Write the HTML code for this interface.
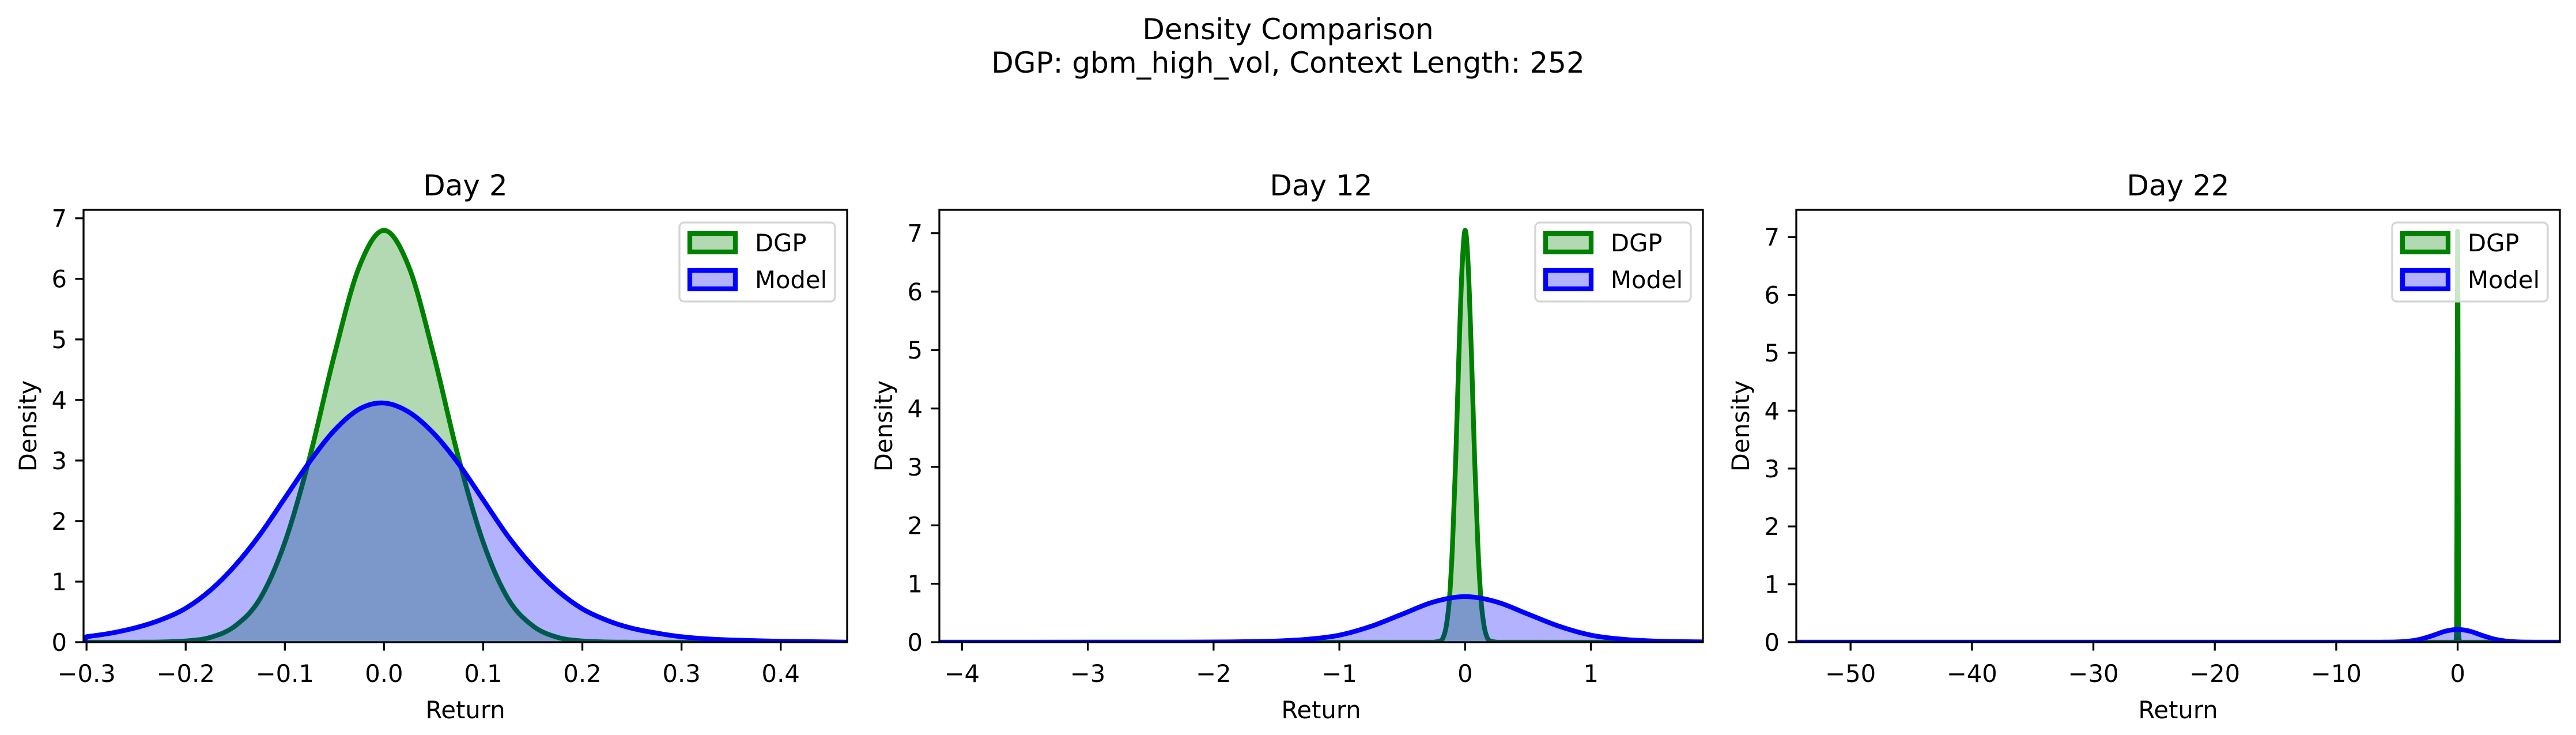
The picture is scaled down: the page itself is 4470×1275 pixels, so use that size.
<!DOCTYPE html>
<html><head><meta charset="utf-8"><style>
html,body{margin:0;padding:0;background:#fff;}
svg{display:block;font-family:"DejaVu Sans","Liberation Sans",sans-serif;}
</style></head><body>
<svg id="fig" width="4470" height="1275" viewBox="0 0 4470 1275" xmlns="http://www.w3.org/2000/svg">
<rect width="4470" height="1275" fill="#fff"/>
<text x="2235" y="68" font-size="50" text-anchor="middle">Density Comparison</text>
<text x="2235" y="126" font-size="50" text-anchor="middle">DGP: gbm_high_vol, Context Length: 252</text>
</svg>
<script>
// Day 2
const p1DgpX = [-0.25,-0.225,-0.2,-0.175,-0.15,-0.125,-0.1,-0.075,-0.05,-0.025,0,0.025,0.05,0.075,0.1,0.125,0.15,0.175,0.2,0.225,0.25];
const p1DgpY = [0,0.004,0.02,0.08,0.27,0.72,1.65,3.05,4.75,6.2,6.8,6.2,4.75,3.05,1.65,0.72,0.27,0.08,0.02,0.004,0];
const p1ModX = [-0.3,-0.275,-0.25,-0.225,-0.2,-0.175,-0.15,-0.125,-0.1,-0.075,-0.05,-0.025,0,0.025,0.05,0.075,0.1,0.125,0.15,0.175,0.2,0.225,0.25,0.275,0.3,0.325,0.35,0.4,0.45];
const p1ModY = [0.09,0.15,0.24,0.37,0.56,0.86,1.27,1.78,2.38,2.98,3.5,3.85,3.95,3.8,3.45,2.95,2.35,1.75,1.25,0.85,0.55,0.36,0.23,0.15,0.09,0.055,0.035,0.015,0.005];
const p1XTicks = [-0.3,-0.2,-0.1,0.0,0.1,0.2,0.3,0.4];
const p1XLabels = ["\u22120.3","\u22120.2","\u22120.1","0.0","0.1","0.2","0.3","0.4"];
// Day 12
const p2DgpX = [-0.25,-0.2,-0.175,-0.15,-0.125,-0.1,-0.075,-0.05,-0.025,0,0.025,0.05,0.075,0.1,0.125,0.15,0.175,0.2,0.25];
const p2DgpY = [0,0.02,0.08,0.28,0.75,1.7,3.15,4.9,6.4,7.05,6.4,4.9,3.15,1.7,0.75,0.28,0.08,0.02,0];
const p2ModX = [-2.25,-2,-1.75,-1.5,-1.25,-1,-0.75,-0.5,-0.25,0,0.25,0.5,0.75,1,1.25,1.5,1.75,2,2.25];
const p2ModY = [0.001,0.003,0.008,0.02,0.05,0.12,0.27,0.48,0.69,0.78,0.69,0.48,0.27,0.12,0.05,0.02,0.008,0.003,0.001];
const p2XTicks = [-4,-3,-2,-1,0,1];
const p2XLabels = ["\u22124","\u22123","\u22122","\u22121","0","1"];
// Day 22
const p3DgpX = [-0.15,-0.08,-0.05,-0.02,0,0.02,0.05,0.08,0.15];
const p3DgpY = [0,0.3,3.0,6.3,7.1,6.3,3.0,0.3,0];
const p3ModX = [-7,-6,-5,-4,-3,-2,-1,0,1,2,3,4,5,6,7];
const p3ModY = [0,0.001,0.005,0.019,0.055,0.119,0.19,0.22,0.19,0.119,0.055,0.019,0.005,0.001,0];
const p3XTicks = [-50,-40,-30,-20,-10,0];
const p3XLabels = ["\u221250","\u221240","\u221230","\u221220","\u221210","0"];
const yTicks = [0,1,2,3,4,5,6,7];

const NS = "http://www.w3.org/2000/svg";
const fig = document.getElementById('fig');
function mk(tag, attrs, parent){
  const e = document.createElementNS(NS, tag);
  for (const k in attrs) e.setAttribute(k, attrs[k]);
  (parent||fig).appendChild(e);
  return e;
}
const TOP=364, BOT=1114;
function smoothPath(pts, base){
  let d = 'M' + pts[0][0].toFixed(1) + ',' + pts[0][1].toFixed(1);
  for (let i=0;i<pts.length-1;i++){
    const p0 = pts[Math.max(0,i-1)], p1 = pts[i], p2 = pts[i+1], p3 = pts[Math.min(pts.length-1,i+2)];
    const c1x = p1[0] + (p2[0]-p0[0])/6, c1y = Math.min(base, p1[1] + (p2[1]-p0[1])/6);
    const c2x = p2[0] - (p3[0]-p1[0])/6, c2y = Math.min(base, p2[1] - (p3[1]-p1[1])/6);
    d += ' C' + c1x.toFixed(1)+','+c1y.toFixed(1)+' '+c2x.toFixed(1)+','+c2y.toFixed(1)+' '+p2[0].toFixed(1)+','+p2[1].toFixed(1);
  }
  return d;
}
function panel(idx, left, right, xmin, xmax, ymax, title, dgpX, dgpY, modX, modY, xt, xl){
  const g = mk('g', {});
  
  
  const sx = v => left + (v - xmin) / (xmax - xmin) * (right - left);
  const sy = v => BOT - v / ymax * (BOT - TOP);
  const cid = 'clip' + idx;
  const cp = mk('clipPath', {id: cid}, g);
  mk('rect', {x: left, y: TOP, width: right-left, height: BOT-TOP}, cp);
  const plot = mk('g', {'clip-path': 'url(#' + cid + ')'}, g);
  function series(xs, ys, color, name){
    const pts = [];
    for (let i=0;i<xs.length;i++) pts.push([sx(xs[i]), sy(ys[i])]);
    const curve = smoothPath(pts, sy(0));
    const d = 'M' + sx(xmin).toFixed(1) + ',' + sy(0).toFixed(1) + ' L' + curve.slice(1) + ' L' + sx(xmax).toFixed(1) + ',' + sy(0).toFixed(1);
    const f = mk('path', {d: d + ' Z', fill: color, 'fill-opacity': 0.3, stroke: 'none'}, plot);
    
    
    const l = mk('path', {d: d, fill: 'none', stroke: color, 'stroke-width': 8.3, 'stroke-linejoin': 'round'}, plot);
    
    
  }
  series(dgpX, dgpY, '#008000', 'dgp');
  series(modX, modY, '#0000ff', 'model');
  const frame = mk('rect', {x: left, y: TOP, width: right-left, height: BOT-TOP, fill: 'none', stroke: '#000', 'stroke-width': 3.3}, g);
  
  
  for (let i=0;i<xt.length;i++){
    const x = sx(xt[i]);
    mk('line', {x1: x, x2: x, y1: BOT, y2: BOT+14.6, stroke: '#000', 'stroke-width': 3.3}, g);
    const t = mk('text', {x: x, y: BOT+69, 'font-size': 41.7, 'text-anchor': 'middle'}, g);
    t.textContent = xl[i];
    
    
  }
  for (let i=0;i<yTicks.length;i++){
    const y = sy(yTicks[i]);
    mk('line', {x1: left-14.6, x2: left, y1: y, y2: y, stroke: '#000', 'stroke-width': 3.3}, g);
    const t = mk('text', {x: left-29, y: y+15, 'font-size': 41.7, 'text-anchor': 'end'}, g);
    t.textContent = String(yTicks[i]);
    
    
  }
  const tt = mk('text', {x: (left+right)/2, y: TOP-25, 'font-size': 50, 'text-anchor': 'middle'}, g);
  tt.textContent = title;
  
  
  const xlab = mk('text', {x: (left+right)/2, y: 1246, 'font-size': 41.7, 'text-anchor': 'middle'}, g);
  xlab.textContent = 'Return';
  
  
  const ylx = left - 82;
  const ylab = mk('text', {x: ylx, y: (TOP+BOT)/2, 'font-size': 41.7, 'text-anchor': 'middle', transform: 'rotate(-90 '+ylx+' '+((TOP+BOT)/2)+')'}, g);
  ylab.textContent = 'Density';
  
  
  const lr = right - 21, ll = lr - 270;
  const lg = mk('g', {}, g);
  
  
  mk('rect', {x: ll, y: 386, width: lr-ll, height: 137, rx: 8, fill: '#fff', 'fill-opacity': 0.8, stroke: '#d5d5d5', 'stroke-width': 3.3}, lg);
  const entries = [['DGP', '#008000', 403], ['Model', '#0000ff', 467]];
  for (const e of entries){
    const r = mk('rect', {x: ll+18, y: e[2]+2, width: 79, height: 32, fill: e[1], 'fill-opacity': 0.3, stroke: e[1], 'stroke-width': 8.3}, lg);
    
    
    const t = mk('text', {x: ll+131, y: e[2]+33, 'font-size': 41.7}, lg);
    t.textContent = e[0];
    
    
  }
}
panel(1, 145, 1470, -0.303, 0.467, 7.14, 'Day 2', p1DgpX, p1DgpY, p1ModX, p1ModY, p1XTicks, p1XLabels);
panel(2, 1630, 2955, -4.18, 1.89, 7.40, 'Day 12', p2DgpX, p2DgpY, p2ModX, p2ModY, p2XTicks, p2XLabels);
panel(3, 3117, 4442, -54.47, 8.42, 7.47, 'Day 22', p3DgpX, p3DgpY, p3ModX, p3ModY, p3XTicks, p3XLabels);
</script>
</body></html>
